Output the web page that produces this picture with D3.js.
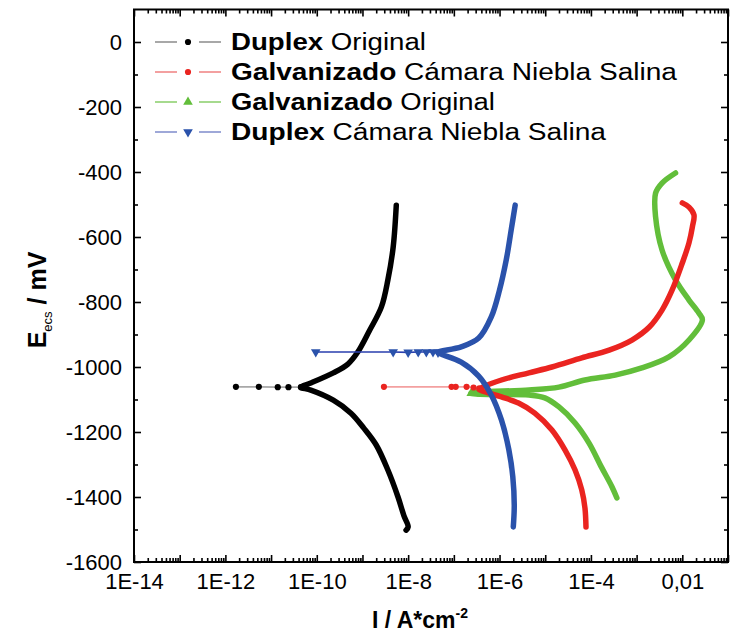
<!DOCTYPE html>
<html><head><meta charset="utf-8">
<script src="https://cdn.jsdelivr.net/npm/d3@7"></script>
<style>body{margin:0;background:#fff}svg{display:block}</style>
</head><body>
<svg id="c" width="730" height="637"></svg>
<script>
// ---------- DATA: [current density A/cm2, potential mV] ----------
// Duplex Original (black)
const duplexOrigCathodic = [[4.5e-11,-1063],[7.4e-11,-1071],[2.3e-10,-1102],[5.6e-10,-1142],[1.07e-9,-1188],[2.0e-9,-1240],[3.6e-9,-1317],[6.0e-9,-1400],[8.1e-9,-1458],[1.0e-8,-1492],[9.0e-9,-1502]];
const duplexOrigAnodic   = [[4.5e-11,-1061],[7.4e-11,-1049],[2.3e-10,-1018],[4.8e-10,-991],[7.9e-10,-954],[1.4e-9,-890],[2.6e-9,-815],[3.6e-9,-732],[4.7e-9,-631],[5.5e-9,-502]];
const duplexOrigTail     = [[1.7e-12,-1061],[5.4e-12,-1061],[1.4e-11,-1062],[2.4e-11,-1062],[4.5e-11,-1062]];
// Galvanizado Cámara Niebla Salina (red)
const galvSaltCathodic = [[3.6e-7,-1070],[1.1e-6,-1092],[2.6e-6,-1111],[5.9e-6,-1142],[1.4e-5,-1194],[2.7e-5,-1255],[4.5e-5,-1317],[6.3e-5,-1378],[7.4e-5,-1434],[7.8e-5,-1492]];
const galvSaltAnodic   = [[3.6e-7,-1068],[1.1e-6,-1040],[4.4e-6,-1018],[1.4e-5,-1000],[6.3e-5,-972],[2.5e-4,-948],[7.9e-4,-917],[1.9e-3,-877],[3.6e-3,-825],[6.0e-3,-763],[1.0e-2,-680],[1.4e-2,-618],[1.66e-2,-569],[1.8e-2,-532],[1.4e-2,-508],[1.0e-2,-495]];
const galvSaltTail     = [[2.95e-9,-1061],[8.9e-8,-1061],[1.1e-7,-1061],[1.9e-7,-1061],[2.7e-7,-1063],[3.6e-7,-1066]];
// Galvanizado Original (green)
const galvOrigCathodic = [[2.4e-7,-1082],[4.4e-6,-1086],[9.8e-6,-1095],[2.0e-5,-1123],[4.5e-5,-1172],[9.1e-5,-1234],[1.7e-4,-1308],[2.9e-4,-1369],[3.7e-4,-1403]];
const galvOrigAnodic   = [[2.4e-7,-1080],[4.4e-6,-1071],[2.0e-5,-1062],[7.4e-5,-1040],[3.4e-4,-1025],[1.3e-3,-1003],[5.1e-3,-969],[1.4e-2,-917],[2.75e-2,-855],[2.3e-2,-834],[1.4e-2,-794],[7.1e-3,-732],[3.6e-3,-640],[2.6e-3,-538],[2.6e-3,-465],[3.6e-3,-434],[7.1e-3,-403]];
const galvOrigTail     = [[2.4e-7,-1081],[4.0e-7,-1082],[6.0e-7,-1081]];
// Duplex Cámara Niebla Salina (blue)
const duplexSaltCathodic = [[4.5e-8,-956],[1.45e-7,-985],[3.5e-7,-1028],[6.6e-7,-1086],[1.1e-6,-1163],[1.6e-6,-1255],[1.95e-6,-1338],[2.1e-6,-1425],[2.0e-6,-1492]];
const duplexSaltAnodic   = [[4.5e-8,-954],[1.45e-7,-938],[3.5e-7,-911],[6.6e-7,-846],[1.0e-6,-763],[1.4e-6,-671],[1.8e-6,-578],[2.2e-6,-502]];
const duplexSaltTail     = [[9.5e-11,-954],[4.7e-9,-954],[1.0e-8,-955],[1.66e-8,-954],[2.5e-8,-954],[3.5e-8,-954],[4.5e-8,-955]];

const seriesBold   = ["Duplex","Galvanizado","Galvanizado","Duplex"];
const seriesRest   = [" Original"," Cámara Niebla Salina"," Original"," Cámara Niebla Salina"];
const seriesColors = ["#000000","#ea2420","#62be3a","#2a52ab"];
const seriesLight  = ["#a8a8a8","#f3a0a0","#a6da8e","#9ea8d8"];
const seriesMarks  = ["circle","circle","triangle-up","triangle-down"];

const xTickValues = [1e-14,1e-12,1e-10,1e-8,1e-6,1e-4,1e-2];
const xTickLabels = ["1E-14","1E-12","1E-10","1E-8","1E-6","1E-4","0,01"];
const yTickValues = [0,-200,-400,-600,-800,-1000,-1200,-1400,-1600];
const yTickLabels = ["0","-200","-400","-600","-800","-1000","-1200","-1400","-1600"];

// ---------- CHART ----------
const svg = d3.select("#c");
const L = 134, R = 728, T = 9.5, B = 562;
const x = d3.scaleLog().domain([1e-14, 1e-1]).range([L, R]);
const y = d3.scaleLinear().domain([-1600, 100]).range([B, T]);
const FONT = "'Liberation Sans', Arial, Helvetica, sans-serif";

const decades = d3.range(-14, 0).map(p => Math.pow(10, p));
const minors = [];
decades.forEach(d => { for (let k = 2; k <= 9; k++) minors.push(d * k); });
const yMinor = d3.range(-1500, 100, 200);

function styleAxis(g, fs) {
  g.select(".domain").remove();
  g.selectAll(".tick line").attr("stroke", "#000").attr("stroke-width", 1.6);
  g.selectAll("text").attr("font-family", FONT).attr("font-size", fs).attr("fill", "#000");
}
const xFmt = v => { const i = xTickValues.findIndex(t => Math.abs(Math.log10(t) - Math.log10(v)) < 1e-6); return i >= 0 ? xTickLabels[i] : ""; };
const yFmt = v => { const i = yTickValues.indexOf(v); return i >= 0 ? yTickLabels[i] : ""; };

svg.append("g").attr("transform", `translate(0,${B})`)
  .call(d3.axisBottom(x).tickValues(decades).tickSize(-7).tickPadding(11).tickFormat(xFmt)).call(g => styleAxis(g, 22));
svg.append("g").attr("transform", `translate(0,${B})`)
  .call(d3.axisBottom(x).tickValues(minors).tickSize(-4).tickFormat("")).call(g => styleAxis(g, 22));
svg.append("g").attr("transform", `translate(0,${T})`)
  .call(d3.axisTop(x).tickValues(decades).tickSize(-7).tickFormat("")).call(g => styleAxis(g, 22));
svg.append("g").attr("transform", `translate(0,${T})`)
  .call(d3.axisTop(x).tickValues(minors).tickSize(-4).tickFormat("")).call(g => styleAxis(g, 22));
svg.append("g").attr("transform", `translate(${L},0)`)
  .call(d3.axisLeft(y).tickValues(yTickValues).tickSize(-7).tickPadding(12).tickFormat(yFmt)).call(g => styleAxis(g, 22));
svg.append("g").attr("transform", `translate(${L},0)`)
  .call(d3.axisLeft(y).tickValues(yMinor).tickSize(-4).tickFormat("")).call(g => styleAxis(g, 22));
svg.append("g").attr("transform", `translate(${R},0)`)
  .call(d3.axisRight(y).tickValues(yTickValues).tickSize(-7).tickFormat("")).call(g => styleAxis(g, 22));
svg.append("g").attr("transform", `translate(${R},0)`)
  .call(d3.axisRight(y).tickValues(yMinor).tickSize(-4).tickFormat("")).call(g => styleAxis(g, 22));

svg.append("rect").attr("x", L).attr("y", T).attr("width", R - L).attr("height", B - T)
  .attr("fill", "none").attr("stroke", "#000").attr("stroke-width", 2);

// curves
const clipId = "plotclip";
svg.append("clipPath").attr("id", clipId).append("rect").attr("x", L).attr("y", T).attr("width", R - L).attr("height", B - T);
const plot = svg.append("g").attr("clip-path", `url(#${clipId})`);
const line = d3.line().x(d => x(d[0])).y(d => y(d[1])).curve(d3.curveCatmullRom.alpha(0.5));
const lineLin = d3.line().x(d => x(d[0])).y(d => y(d[1]));
const sym = {
  "circle": d3.symbol(d3.symbolCircle, 30),
  "triangle-up": d3.symbol(d3.symbolTriangle, 40),
  "triangle-down": d3.symbol(d3.symbolTriangle, 40)
};
const allSeries = [
  [duplexOrigCathodic, duplexOrigAnodic, duplexOrigTail],
  [galvSaltCathodic, galvSaltAnodic, galvSaltTail],
  [galvOrigCathodic, galvOrigAnodic, galvOrigTail],
  [duplexSaltCathodic, duplexSaltAnodic, duplexSaltTail]
];
const drawOrder = [2, 1, 0, 3];
drawOrder.forEach(i => {
  const [cat, ano, tail] = allSeries[i];
  const tailColor = i === 3 ? "#2a3fae" : seriesLight[i];
  plot.append("path").attr("d", lineLin(tail)).attr("fill", "none")
    .attr("stroke", tailColor).attr("stroke-width", 1.6);
  plot.selectAll(null).data(tail).join("path")
    .attr("d", sym[seriesMarks[i]])
    .attr("transform", d => `translate(${x(d[0])},${y(d[1])})${seriesMarks[i] === "triangle-down" ? " rotate(180)" : ""}`)
    .attr("fill", seriesColors[i]);
  const main = cat.slice().reverse().concat(ano);
  plot.append("path").attr("d", line(main)).attr("fill", "none")
    .attr("stroke", seriesColors[i]).attr("stroke-width", 5.5)
    .attr("stroke-linejoin", "round").attr("stroke-linecap", "round");
});

// legend
const legY = [42, 72, 102, 132];
const legWidths = [195, 446, 264, 375];
seriesBold.forEach((b, i) => {
  const g = svg.append("g");
  g.append("line").attr("x1", 155).attr("x2", 177).attr("y1", legY[i]).attr("y2", legY[i]).attr("stroke", seriesLight[i]).attr("stroke-width", 2);
  g.append("line").attr("x1", 199).attr("x2", 221).attr("y1", legY[i]).attr("y2", legY[i]).attr("stroke", seriesLight[i]).attr("stroke-width", 2);
  g.append("path").attr("d", sym[seriesMarks[i]])
    .attr("transform", `translate(188,${legY[i]})${seriesMarks[i] === "triangle-down" ? " rotate(180)" : ""}`)
    .attr("fill", seriesColors[i]);
  const t = g.append("text").attr("x", 231).attr("y", legY[i] + 8)
    .attr("font-family", FONT).attr("font-size", 23).attr("fill", "#000")
    .attr("textLength", legWidths[i]).attr("lengthAdjust", "spacingAndGlyphs");
  t.append("tspan").attr("font-weight", "bold").text(b);
  t.append("tspan").text(seriesRest[i]);
});

// axis titles
const xt = svg.append("text").attr("x", 420).attr("y", 628).attr("text-anchor", "middle")
  .attr("font-family", FONT).attr("font-size", 23).attr("font-weight", "bold");
xt.append("tspan").text("I / A*cm");
xt.append("tspan").attr("font-size", 14).attr("dy", -10).text("-2");

const yt = svg.append("text").attr("transform", "translate(46,300) rotate(-90)").attr("text-anchor", "middle")
  .attr("font-family", FONT).attr("font-weight", "bold").attr("font-size", 25);
yt.append("tspan").text("E");
yt.append("tspan").attr("font-size", 13).attr("font-weight", "normal").attr("dy", 6).text("ecs");
yt.append("tspan").attr("dy", -6).text(" / mV");
</script>
</body></html>
